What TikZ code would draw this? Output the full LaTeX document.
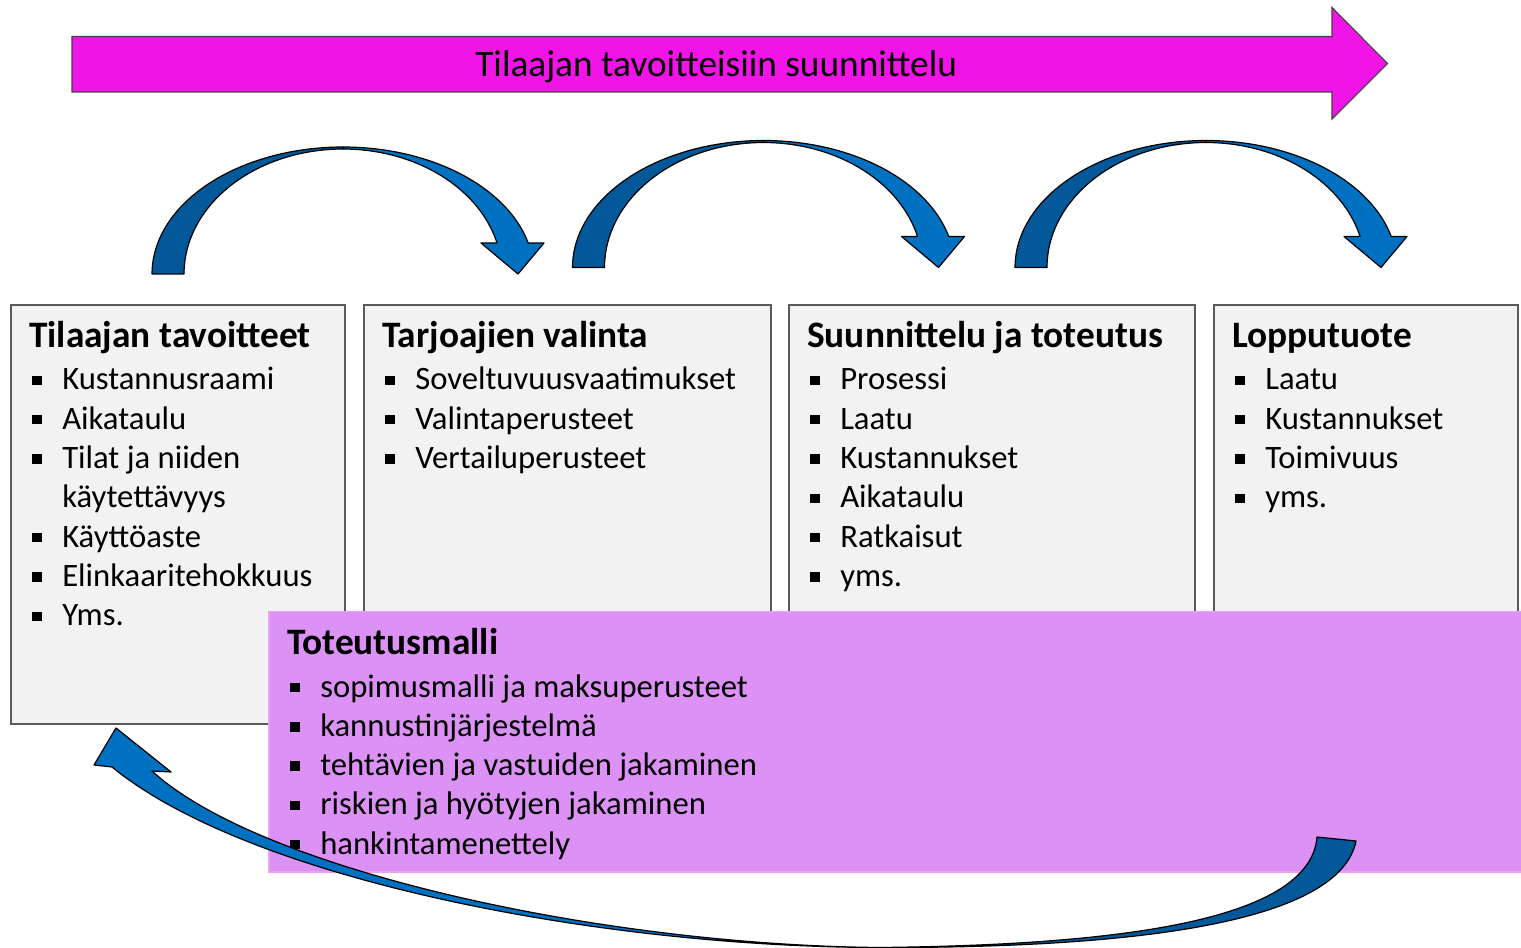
\documentclass[tikz,border=0pt]{standalone}
\usepackage{fontspec}
\setmainfont{Carlito}
\usetikzlibrary{fit}
\definecolor{mag}{RGB}{240,20,230}
\definecolor{boxgray}{RGB}{242,242,242}
\definecolor{boxline}{RGB}{90,90,90}
\definecolor{lilac}{RGB}{220,146,245}
\definecolor{lilacline}{RGB}{238,160,240}
\definecolor{blueL}{RGB}{0,112,192}
\definecolor{blueD}{RGB}{2,88,153}
\tikzset{
 panel/.style={draw=boxline, line width=1pt, fill=boxgray, inner sep=0pt},
 lilacpanel/.style={draw=lilacline, line width=1pt, fill=lilac, inner sep=0pt},
 item/.style={anchor=base west, inner sep=0pt, font=\fontsize{24.5}{29}\selectfont},
 head/.style={anchor=base west, inner sep=0pt, font=\fontsize{28}{34}\selectfont\bfseries},
 titletext/.style={anchor=base west, inner sep=0pt, font=\fontsize{28}{33}\selectfont},
 ribbon/.style={draw=black, line width=0.9pt, line join=round},
 bigarrow/.style={draw=black!75, line width=0.8pt, fill=mag},
}
\newcommand\bul[4]{\node[item] (#1) at (#2,#3) {\rule[3.6pt]{7pt}{7pt}\hspace{15.5pt}#4};}
\newcommand\toparrow[2]{%
 \filldraw[ribbon, fill=blueD] plot[domain=180:90, samples=40] ({#1+191*cos(\x)},{#2-127*sin(\x)})
   -- plot[domain=90:180, samples=40] ({#1+159*cos(\x)},{#2-125*sin(\x)}) -- cycle;
 \filldraw[ribbon, fill=blueL] plot[domain=90:14.1, samples=40] ({#1+191*cos(\x)},{#2-127*sin(\x)})
   -- ({#1+201},{#2-31}) -- ({#1+175},{#2}) -- ({#1+138},{#2-31}) -- ({#1+154},{#2-31})
   -- plot[domain=14.4:90, samples=40] ({#1+159*cos(\x)},{#2-125*sin(\x)}) -- cycle;}
\begin{document}
\begin{tikzpicture}[x=0.75pt,y=-0.75pt]
\useasboundingbox (0,0) rectangle (1521,948);
% top process arrow
\filldraw[bigarrow] (72,36.5) -- (1332,36.5) -- (1332,7.5) -- (1387.5,63.5) -- (1332,119) -- (1332,92) -- (72,92) -- cycle;
\node[titletext] (title) at (475,76.5) {Tilaajan tavoitteisiin suunnittelu};
% curved arrows
\toparrow{343}{274}
\toparrow{763.5}{267.5}
\toparrow{1206}{267.5}
% panels
\node[panel, fit={(11,305) (345,724)}] (box1) {};
\node[panel, fit={(364,305) (771,724)}] (box2) {};
\node[panel, fit={(789,305) (1195,724)}] (box3) {};
\node[panel, fit={(1214,305) (1518,724)}] (box4) {};
% box 1
\node[head] (h1) at (29,348) {Tilaajan tavoitteet};
\bul{a1}{32}{390}{Kustannusraami}
\bul{a2}{32}{429.3}{Aikataulu}
\bul{a3}{32}{468.6}{Tilat ja niiden}
\node[item] (a3b) at (62,507.9) {käytettävyys};
\bul{a4}{32}{547.2}{Käyttöaste}
\bul{a5}{32}{586.5}{Elinkaaritehokkuus}
\bul{a6}{32}{625.8}{Yms.}
% box 2
\node[head] (h2) at (382,348) {Tarjoajien valinta};
\bul{b1}{385}{390}{Soveltuvuusvaatimukset}
\bul{b2}{385}{429.3}{Valintaperusteet}
\bul{b3}{385}{468.6}{Vertailuperusteet}
% box 3
\node[head] (h3) at (807,348) {Suunnittelu ja toteutus};
\bul{c1}{810}{390}{Prosessi}
\bul{c2}{810}{429.3}{Laatu}
\bul{c3}{810}{468.6}{Kustannukset}
\bul{c4}{810}{507.9}{Aikataulu}
\bul{c5}{810}{547.2}{Ratkaisut}
\bul{c6}{810}{586.5}{yms.}
% box 4
\node[head] (h4) at (1232,348) {Lopputuote};
\bul{d1}{1235}{390}{Laatu}
\bul{d2}{1235}{429.3}{Kustannukset}
\bul{d3}{1235}{468.6}{Toimivuus}
\bul{d4}{1235}{507.9}{yms.}
% implementation model
\node[lilacpanel, fit={(269,611.5) (1523,872)}] (box5) {};
\node[head] (h5) at (287,654) {Toteutusmalli};
\bul{e1}{290}{697}{sopimusmalli ja maksuperusteet}
\bul{e2}{290}{736.3}{kannustinjärjestelmä}
\bul{e3}{290}{775.6}{tehtävien ja vastuiden jakaminen}
\bul{e4}{290}{814.9}{riskien ja hyötyjen jakaminen}
\bul{e5}{290}{854.2}{hankintamenettely}
% bottom feedback arrow
\filldraw[ribbon, fill=blueD] (880,947.5) .. controls (1150,948) and (1340,920) .. (1356,841)
  -- (1317,837) .. controls (1310,925) and (1100,945) .. (880,947.5) -- cycle;
\filldraw[ribbon, fill=blueL] (112,767) .. controls (250,880) and (600,947) .. (880,947.5)
  .. controls (600,945) and (260,870) .. (152,771) -- (171,772) -- (116,728) -- (94,765) -- cycle;
\end{tikzpicture}
\end{document}
